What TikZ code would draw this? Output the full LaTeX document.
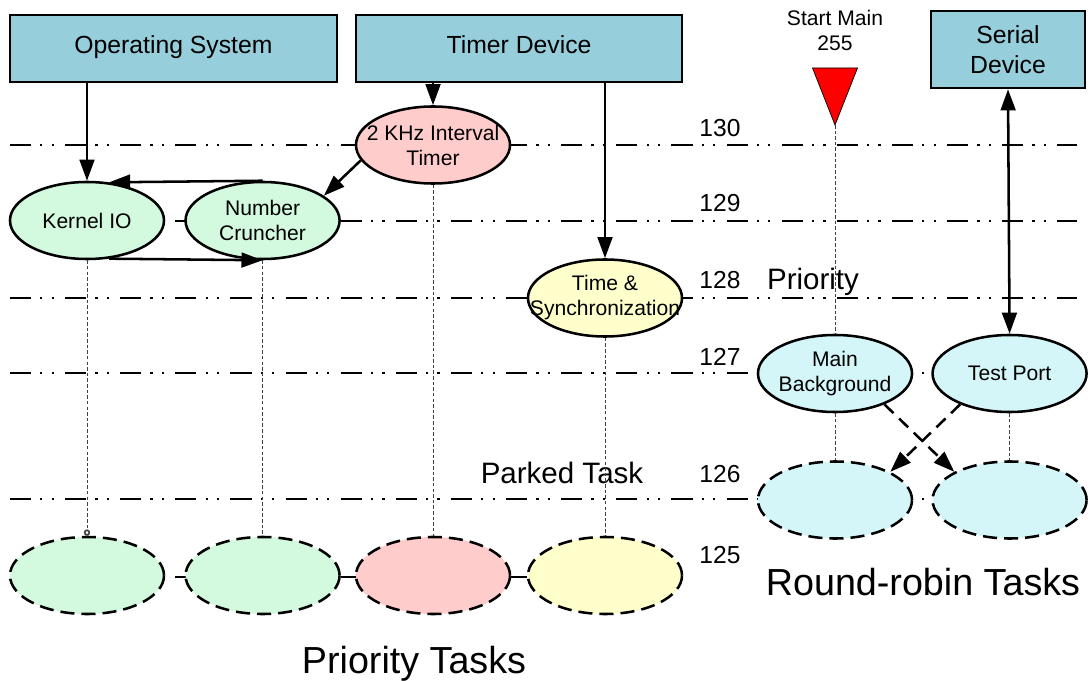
\documentclass[tikz,border=0pt]{standalone}
\usepackage{fontspec}
\setmainfont{Liberation Sans}
\usetikzlibrary{arrows.meta,shapes.geometric,positioning}

\definecolor{devblue}{RGB}{150,206,219}
\definecolor{kgreen}{RGB}{211,249,222}
\definecolor{kpink}{RGB}{255,204,204}
\definecolor{kyellow}{RGB}{255,255,204}
\definecolor{kcyan}{RGB}{212,246,249}

\begin{document}
\begin{tikzpicture}[x=0.025cm, y=-0.025cm]
		\tikzset{
			device/.style={draw, line width=1.8pt, fill=devblue,
					inner sep=0pt, font=\fontsize{17.6}{21}\selectfont},
			oneline/.style={minimum height=1.675cm, text height=0.72em, text depth=0pt},
			task/.style={ellipse, draw, line width=1.8pt, fill=#1,
					minimum width=3.85cm, minimum height=1.925cm, inner sep=0pt},
			parked/.style={task=#1, dash pattern=on 10pt off 5pt},
			tasktext/.style={label={[font=\fontsize{15}{17.8}\selectfont, align=center]center:#1}},
			prioline/.style={line width=1.8pt,
					dash pattern=on 15pt off 6.5pt on 1.6pt off 6.5pt on 1.6pt off 8pt},
			lvl/.style={anchor=base, inner sep=0pt, font=\fontsize{17.5}{21}\selectfont},
			arr/.style={line width=1.8pt, -{Triangle[length=15pt,width=10.5pt]}},
			thread/.style={line width=0.7pt, black!75, dash pattern=on 2.5pt off 1.5pt},
		}
		\useasboundingbox (0,0) rectangle (1091,681);
		%
		% priority levels
		\foreach \y in {145,221,298,373,499}
			\draw[prioline] (10,\y) -- (1077,\y);
		\draw[prioline] (10,577) -- (605,577);
		\foreach \n/\b in {130/137,129/212,128/289,127/366,126/482,125/563}
			\node[lvl] (p\n) at (720,\b) {\n};
		%
		% devices
		\node[device, oneline, minimum width=8.175cm] (os) at (173.5,48.5) {Operating System};
		\node[device, oneline, minimum width=8.15cm] (timer) at (519,48.5) {Timer Device};
		\node[device, align=center, minimum width=3.85cm, minimum height=1.925cm] (serial)
			at (1008,49.5) {Serial\\Device};
		%
		% running tasks
		\node[task=kgreen, tasktext=Kernel IO] (kio) at (87,220.5) {};
		\node[task=kgreen, tasktext={Number\\Cruncher}, right=0.475cm of kio] (nc) {};
		\node[task=kpink, tasktext={2 KHz Interval\\Timer}] (khz) at (433,145) {};
		\node[task=kyellow, tasktext={Time \&\\Synchronization}] (ts) at (605,298) {};
		\node[task=kcyan, tasktext={Main\\Background}] (mb) at (835,373.5) {};
		\node[task=kcyan, tasktext={Test Port}, right=0.45cm of mb] (tp) {};
		%
		% parked tasks
		\coordinate (low) at (0,575.5);
		\coordinate (rr) at (0,500);
		\foreach \t/\c in {kio/kgreen, nc/kgreen, khz/kpink, ts/kyellow}
			\node[parked=\c] (\t2) at (\t |- low) {};
		\node[parked=kcyan] (mb2) at (mb |- rr) {};
		\node[parked=kcyan] (tp2) at (tp |- rr) {};
		%
		% start marker
		\coordinate (start) at (835,125);
		\draw[fill=red, draw=black, line width=0.5pt] (start) -- ++(-22.5,-57) -- ++(45,0) -- cycle;
		\node[anchor=south, inner sep=0pt, align=center, font=\fontsize{15}{17.8}\selectfont]
			(startlbl) at (835,51) {Start Main\\255};
		%
		\node[anchor=base, font=\fontsize{21}{25}\selectfont] (prio) at (813,290) {Priority};
		\node[anchor=base, font=\fontsize{21}{25}\selectfont] (park) at (562,483) {Parked Task};
		\node[anchor=base, font=\fontsize{26.8}{32}\selectfont] (ptasks) at (414,673) {Priority Tasks};
		\node[anchor=base, font=\fontsize{26.8}{32}\selectfont] (rrtasks) at (923,595) {Round-robin Tasks};
		%
		\draw[thread, -{Circle[open,length=4.5pt,line width=1.2pt]}] (kio.south) -- (kio2.north);
		\draw[thread] (nc.south) -- (nc2.north);
		\draw[thread] (khz.south) -- (khz2.north);
		\draw[thread] (ts.south) -- (ts2.north);
		\draw[thread] (start) -- (mb.north);
		\draw[thread] (mb.south) -- (mb2.north);
		\draw[thread] (tp.south) -- (tp2.north);
		%
		\draw[arr] (kio.north |- os.south) -- (kio.north);
		\draw[arr] (khz.north |- timer.south) -- (khz.north);
		\draw[arr] (ts.north |- timer.south) -- (ts.north);
		\draw[arr] (khz.192) -- (nc.22);
		\draw[arr] (nc.north) -- (kio.60);
		\draw[arr] (kio.-60) -- (nc.south);
		\draw[line width=1.8pt, {Triangle[length=15pt,width=10.5pt]}-{Triangle[length=15pt,width=10.5pt]}]
			(serial.south) -- (tp.north);
		\draw[arr, dash pattern=on 9pt off 5.5pt] (mb.-32) -- (tp2.153);
		\draw[arr, dash pattern=on 9pt off 5.5pt] (tp.-148) -- (mb2.27);
\end{tikzpicture}
\end{document}
